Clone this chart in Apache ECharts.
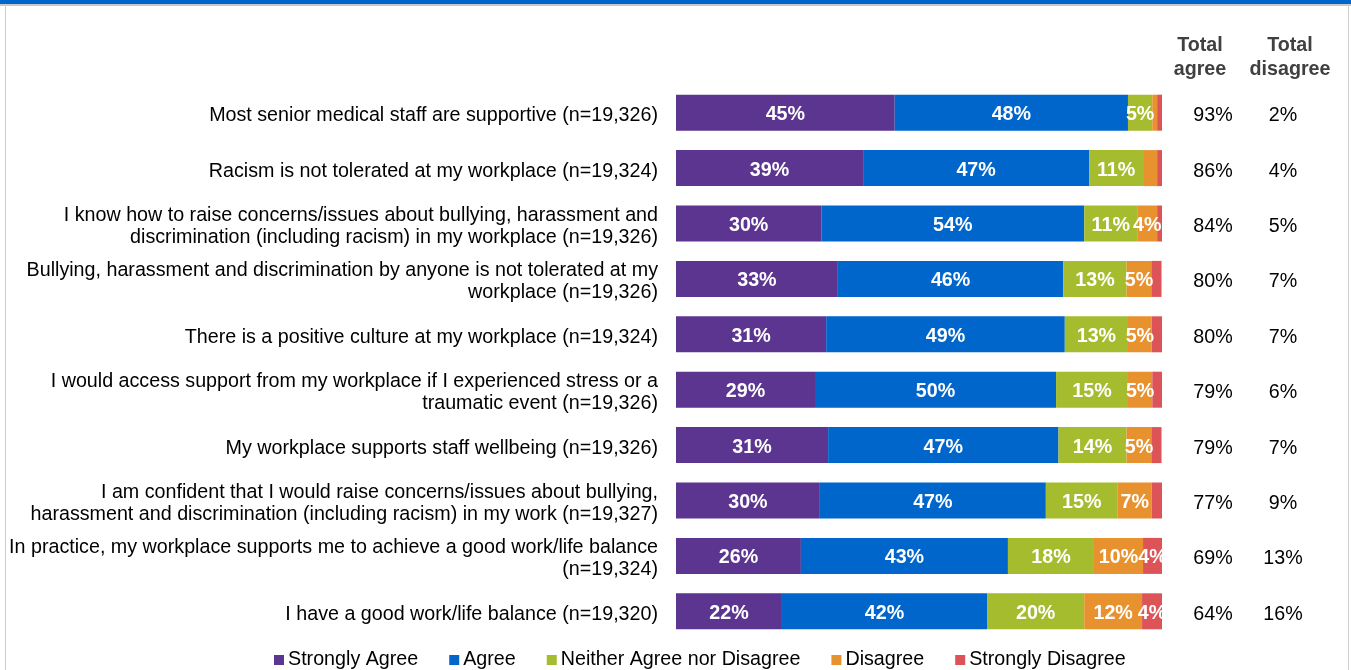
<!DOCTYPE html>
<html>
<head>
<meta charset="utf-8">
<style>
html,body{margin:0;padding:0;background:#fff;}
#chart{width:1351px;height:670px;}
</style>
<script src="https://cdn.jsdelivr.net/npm/echarts@6/dist/echarts.min.js"></script>
</head>
<body>
<div id="chart"></div>
<script>
const categories = [
  'Most senior medical staff are supportive (n=19,326)',
  'Racism is not tolerated at my workplace (n=19,324)',
  'I know how to raise concerns/issues about bullying, harassment and\ndiscrimination (including racism) in my workplace (n=19,326)',
  'Bullying, harassment and discrimination by anyone is not tolerated at my\nworkplace (n=19,326)',
  'There is a positive culture at my workplace (n=19,324)',
  'I would access support from my workplace if I experienced stress or a\ntraumatic event (n=19,326)',
  'My workplace supports staff wellbeing (n=19,326)',
  'I am confident that I would raise concerns/issues about bullying,\nharassment and discrimination (including racism) in my work (n=19,327)',
  'In practice, my workplace supports me to achieve a good work/life balance\n(n=19,324)',
  'I have a good work/life balance (n=19,320)'
];
const seriesNames = ['Strongly Agree', 'Agree', 'Neither Agree nor Disagree', 'Disagree', 'Strongly Disagree'];
const stronglyAgree    = [45, 38.5, 29.9, 33.3, 30.9, 28.6, 31.3, 29.6, 25.7, 21.8];
const agree            = [48, 46.5, 54.1, 46.4, 49.1, 49.6, 47.4, 46.5, 42.6, 42.2];
const neither          = [5, 11.1, 10.9, 13.0, 13.0, 14.8, 14.0, 14.8, 17.7, 20.0];
const disagree         = [1, 2.9, 4.1, 5.1, 4.9, 5.0, 5.1, 7.0, 10.1, 11.9];
const stronglyDisagree = [1, 1.0, 1.0, 2.1, 2.1, 2.0, 2.1, 2.1, 3.9, 4.1];
const totalAgree    = [93, 86, 84, 80, 80, 79, 79, 77, 69, 64];
const totalDisagree = [2, 4, 5, 7, 7, 6, 7, 9, 13, 16];
const headers = ['Total\nagree', 'Total\ndisagree'];

const colors = ['#5B358F', '#0066CC', '#A5BC2E', '#E8922F', '#DC5458'];
const FONT = "'Liberation Sans', Arial, sans-serif";
const FS = 19.7;
const values = [stronglyAgree, agree, neither, disagree, stronglyDisagree];

const chart = echarts.init(document.getElementById('chart'));
chart.setOption({
  animation: false,
  color: colors,
  textStyle: { fontFamily: FONT },
  grid: { left: 676, right: 189, top: 85, bottom: 31, containLabel: false },
  xAxis: { type: 'value', min: 0, max: 100, show: false },
  yAxis: [
    {
      type: 'category', data: categories, inverse: true,
      axisLine: { show: false }, axisTick: { show: false },
      axisLabel: {
        margin: 18, padding: [6, 0, 0, 0], align: 'right',
        formatter: function (v) { return v.split('\n').map(function (s) { return '{t|' + s + '}'; }).join('\n'); },
        rich: { t: { fontSize: FS, color: '#000', lineHeight: 22, fontFamily: FONT, align: 'right' } }
      }
    },
    {
      type: 'category', data: categories, inverse: true, position: 'right',
      axisLine: { show: false }, axisTick: { show: false },
      axisLabel: {
        margin: 16, padding: [6, 0, 0, 0],
        formatter: function (v, i) { return '{a|' + totalAgree[i] + '%}{b|' + totalDisagree[i] + '%}'; },
        rich: {
          a: { width: 70, align: 'center', fontSize: FS, color: '#000', fontFamily: FONT },
          b: { width: 70, align: 'center', fontSize: FS, color: '#000', fontFamily: FONT }
        }
      }
    }
  ],
  legend: {
    data: seriesNames, left: 269, top: 645, itemWidth: 10, itemHeight: 10, itemGap: 31,
    icon: 'rect',
    textStyle: { fontSize: FS, color: '#000', fontFamily: FONT, padding: [0, 0, 0, -1] }
  },
  graphic: [
    { type: 'rect', shape: { x: 0, y: 0, width: 1351, height: 4 }, style: { fill: '#0066CC' } },
    { type: 'rect', shape: { x: 0, y: 4, width: 1351, height: 2 }, style: { fill: '#c9c9c9' } },
    { type: 'rect', shape: { x: 5, y: 4, width: 1, height: 666 }, style: { fill: '#cfcfcf' } },
    { type: 'rect', shape: { x: 1348, y: 4, width: 1, height: 666 }, style: { fill: '#cfcfcf' } },
    { type: 'text', x: 1200, y: 34, style: { text: headers[0], font: 'bold ' + FS + 'px ' + FONT, fill: '#404040', align: 'center', verticalAlign: 'top', lineHeight: 24 } },
    { type: 'text', x: 1290, y: 34, style: { text: headers[1], font: 'bold ' + FS + 'px ' + FONT, fill: '#404040', align: 'center', verticalAlign: 'top', lineHeight: 24 } }
  ],
  series: seriesNames.map(function (name, k) {
    return {
      name: name, type: 'bar', stack: 'total', barWidth: '65%',
      data: values[k],
      itemStyle: { color: colors[k] },
      label: {
        show: true, position: 'inside', offset: [0, 2], color: '#fff', fontWeight: 'bold', fontSize: FS, fontFamily: FONT,
        formatter: function (p) { return p.value >= 3.5 ? Math.round(p.value) + '%' : ''; }
      }
    };
  })
});
</script>
</body>
</html>
